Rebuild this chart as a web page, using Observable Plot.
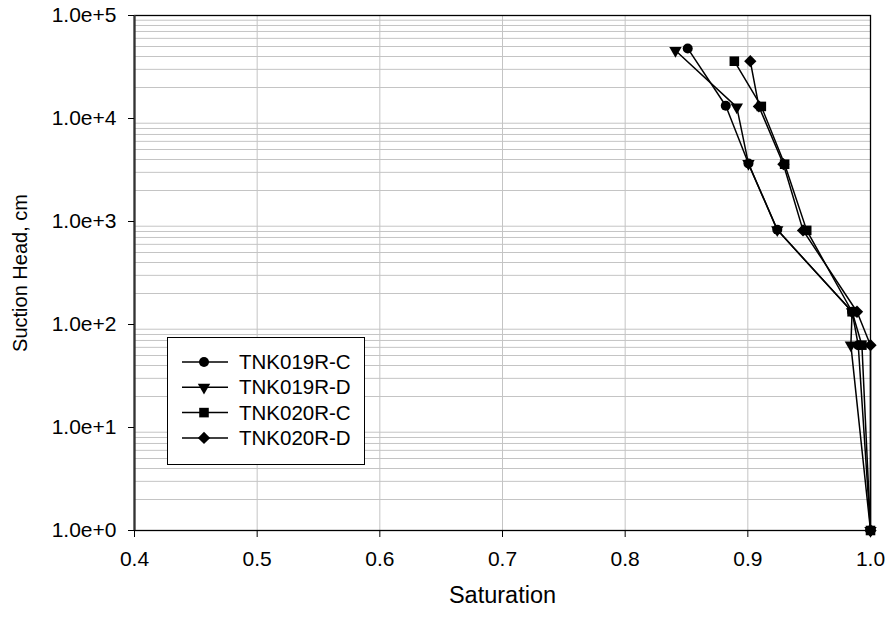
<!DOCTYPE html>
<html>
<head>
<meta charset="utf-8">
<script src="https://cdn.jsdelivr.net/npm/d3@7"></script>
<script src="https://cdn.jsdelivr.net/npm/@observablehq/plot@0.6"></script>
<style>
  body { margin: 0; background: #fff; }
  #wrap { position: relative; width: 885px; height: 617px; font-family: "Liberation Sans", Arial, sans-serif; }
  #legend { position: absolute; left: 167px; top: 337px; }
</style>
</head>
<body>
<div id="wrap"><div id="chart"></div><div id="legend"></div></div>
<script>
// ---- data ----
const seriesNames = ["TNK019R-C", "TNK019R-D", "TNK020R-C", "TNK020R-D"];
const sat019C = [0.851, 0.882, 0.9005, 0.924, 0.985, 0.990, 1.0];
const head019C = [47900, 13300, 3650, 830, 133, 63, 1];
const sat019D = [0.841, 0.891, 0.9005, 0.924, 0.985, 0.984, 1.0];
const head019D = [45700, 12900, 3650, 830, 133, 63, 1];
const sat020C = [0.889, 0.911, 0.930, 0.948, 0.985, 0.993, 1.0];
const head020C = [36000, 13100, 3600, 820, 133, 63, 1];
const sat020D = [0.902, 0.909, 0.929, 0.945, 0.989, 1.0, 1.0];
const head020D = [36000, 13100, 3600, 820, 133, 63, 1];
const xTicks = [0.4, 0.5, 0.6, 0.7, 0.8, 0.9, 1.0];
const yTicks = [1, 10, 100, 1000, 10000, 100000];

// ---- build table ----
const sats = [sat019C, sat019D, sat020C, sat020D];
const heads = [head019C, head019D, head020C, head020D];
const data = seriesNames.map((name, i) => sats[i].map((s, j) => ({series: name, sat: s, head: heads[i][j]}))).flat();
const bySeries = name => data.filter(d => d.series === name);

// minor log gridlines
const yGrid = [];
for (let k = 0; k < yTicks.length - 1; k++) for (let m = 2; m <= 9; m++) yGrid.push(m * yTicks[k]);

const markers = [
  {symbol: "circle", r: 5, rotate: 0},
  {symbol: "triangle", r: 4.6, rotate: 180},
  {symbol: "square", r: 5.4, rotate: 0},
  {symbol: "square", r: 4.9, rotate: 45}
];

const font = "'Liberation Sans', Arial, sans-serif";
const chart = Plot.plot({
  width: 885,
  height: 617,
  marginLeft: 134,
  marginRight: 15,
  marginTop: 15,
  marginBottom: 87,
  style: {fontFamily: font, fontSize: "21px", color: "#000", background: "#fff"},
  x: {domain: [0.4, 1.0]},
  y: {type: "log", domain: [1, 100000]},
  marks: [
    Plot.ruleY(yGrid, {stroke: "#c4c4c4", strokeWidth: 1}),
    Plot.ruleX(xTicks.slice(1, -1), {stroke: "#c4c4c4", strokeWidth: 1}),
    Plot.frame({stroke: "#000", strokeWidth: 1.3}),
    Plot.ruleX([0.4], {stroke: "#333", strokeWidth: 2.2}),
    Plot.axisX({ticks: xTicks, tickFormat: d => d.toFixed(1), tickSize: 7, tickPadding: 14, label: null, fontSize: 21}),
    Plot.axisY({ticks: yTicks, tickFormat: d => d.toExponential(1), tickSize: 6, tickPadding: 12, label: null, fontSize: 21}),
    Plot.axisX({ticks: [], tickSize: 0, label: "Saturation", labelArrow: "none", labelAnchor: "center", labelOffset: 72, fontSize: 23.5}),
    Plot.axisY({ticks: [], tickSize: 0, label: "Suction Head, cm", labelArrow: "none", labelAnchor: "center", labelOffset: 122, fontSize: 20}),
    Plot.line(data, {x: "sat", y: "head", z: "series", stroke: "#000", strokeWidth: 1.5}),
    ...seriesNames.map((name, i) => Plot.dot(bySeries(name), {
      x: "sat", y: "head", symbol: markers[i].symbol, r: markers[i].r, rotate: markers[i].rotate, fill: "#000", stroke: "none"
    }))
  ]
});
document.getElementById("chart").appendChild(chart);

// ---- legend ----
const lw = 198, lh = 128;
const leg = d3.select("#legend").append("svg").attr("width", lw).attr("height", lh);
leg.append("rect").attr("x", 0.5).attr("y", 0.5).attr("width", lw - 1).attr("height", lh - 1)
  .attr("fill", "#fff").attr("stroke", "#000").attr("stroke-width", 1);
const symMap = {circle: d3.symbolCircle, triangle: d3.symbolTriangle, square: d3.symbolSquare};
seriesNames.forEach((name, i) => {
  const y = 25 + i * 25.3;
  leg.append("line").attr("x1", 15).attr("x2", 61).attr("y1", y).attr("y2", y).attr("stroke", "#000").attr("stroke-width", 1.5);
  const m = markers[i];
  leg.append("path").attr("d", d3.symbol(symMap[m.symbol], Math.PI * m.r * m.r)())
    .attr("transform", `translate(37,${y}) rotate(${m.rotate})`).attr("fill", "#000");
  leg.append("text").attr("x", 72).attr("y", y).attr("dy", "0.35em")
    .attr("font-family", font).attr("font-size", 20.5).text(name);
});
</script>
</body>
</html>
